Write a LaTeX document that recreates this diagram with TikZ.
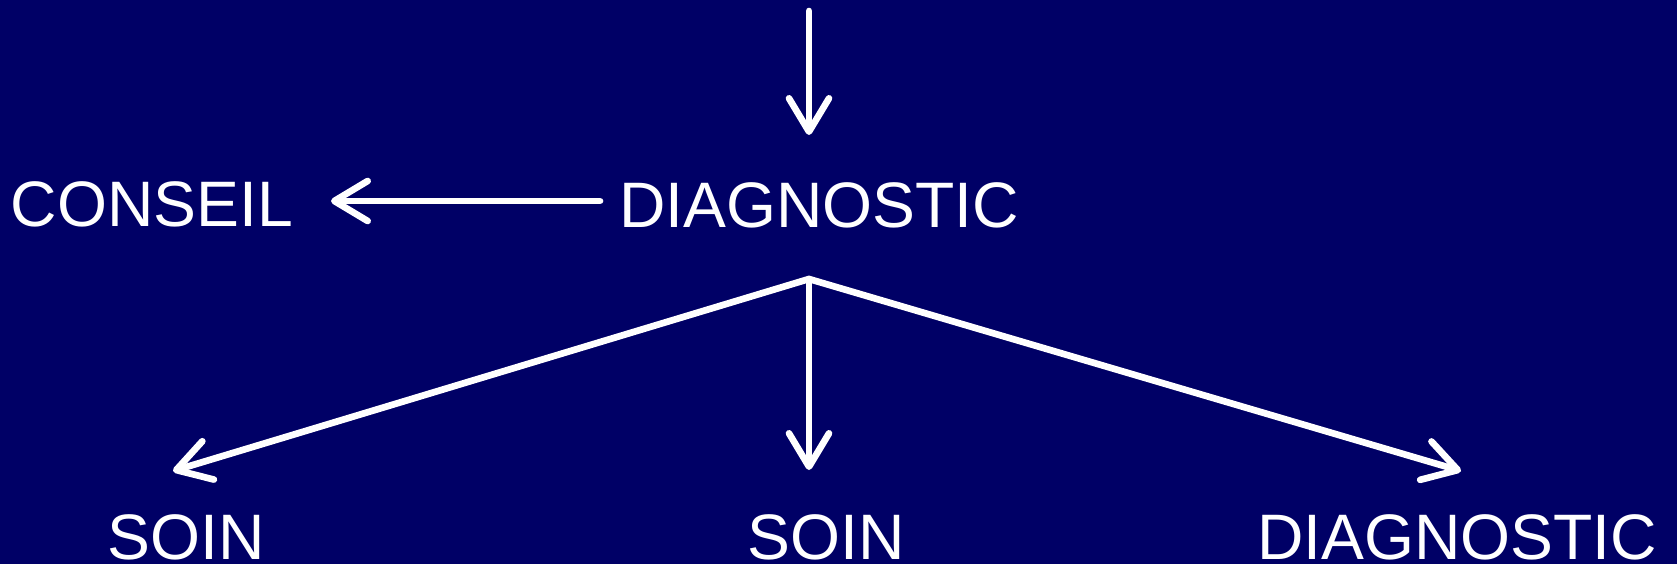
\documentclass[tikz,border=0pt]{standalone}
\usepackage{fontspec}
\setmainfont{Liberation Sans}
\usetikzlibrary{arrows.meta}
\definecolor{navy}{RGB}{0,0,102}
\begin{document}
\begin{tikzpicture}[x=0.75pt,y=-0.75pt,
  lbl/.style={text=white,font=\fontsize{48.2pt}{56pt}\selectfont,inner sep=0pt,anchor=base},
  conn/.style={draw=white,line width=5pt,line cap=round,line join=round,
    -{Straight Barb[length=25pt,width=30pt,line cap=round,line join=round]}}]
\fill[navy] (0,0) rectangle (1677,564);
\useasboundingbox (0,0) rectangle (1677,564);
% texts
\node[lbl] (conseil) at (152,226) {CONSEIL};
\node[lbl] (diag) at (819,227) {DIAGNOSTIC};
\node[lbl] (soinA) at (186,559) {SOIN};
\node[lbl] (soinB) at (826,559) {SOIN};
\node[lbl] (diagB) at (1457,559) {DIAGNOSTIC};
% connector points
\coordinate (top) at (809,11);
\coordinate (topTip) at (809,135);
\coordinate (cStart) at (600,201);
\coordinate (cTip) at (331,201);
\coordinate (hub) at (809,279);
\coordinate (tipA) at (173,471);
\coordinate (tipB) at (809,470);
\coordinate (tipC) at (1461,471);
% connectors
\draw[conn] (top) -- (topTip);
\draw[conn] (cStart) -- (cTip);
\draw[conn] (hub) -- (tipA);
\draw[conn] (hub) -- (tipB);
\draw[conn] (hub) -- (tipC);
\end{tikzpicture}
\end{document}
